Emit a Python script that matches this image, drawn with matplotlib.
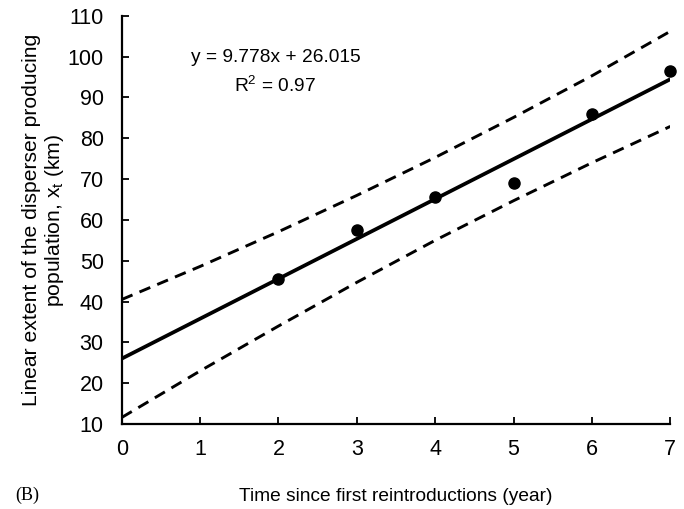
import numpy as np
from matplotlib import pyplot as plt

plt.rcParams['font.family'] = ['Liberation Sans', 'DejaVu Sans']
plt.rcParams['mathtext.fontset'] = 'custom'
plt.rcParams['mathtext.rm'] = 'Liberation Sans'
plt.rcParams['mathtext.it'] = 'Liberation Sans'

# observed extent (km) per year since reintroduction
years = [2, 3, 4, 5, 6, 7]
extent = [45.6, 57.5, 65.5, 69.0, 86.0, 96.5]

# fitted line
slope = 9.778
intercept = 26.015

# dashed bands at each year
band_x = [0, 1, 2, 3, 4, 5, 6, 7]
band_hi = [40.5, 48.6, 57.1, 66.0, 75.3, 85.1, 95.3, 106.2]
band_lo = [11.6, 23.0, 34.0, 44.7, 55.0, 64.7, 74.0, 82.9]

fig = plt.figure(figsize=(6.84, 5.09), dpi=100)
ax = fig.add_axes([0.178, 0.167, 0.802, 0.802])

xfit = np.array([0, 7])
ax.plot(xfit, slope*xfit + intercept, 'k-', lw=2.7, solid_capstyle='butt')
ax.plot(band_x, band_hi, 'k', ls=(0, (4.0, 2.6)), lw=2.1)
ax.plot(band_x, band_lo, 'k', ls=(0, (4.0, 2.6)), lw=2.1)
ax.plot(years, extent, 'ko', ms=8, clip_on=False, zorder=5)

ax.set_xlim(0, 7)
ax.set_ylim(10, 110)
ax.set_xticks(range(0, 8))
ax.set_yticks(range(10, 111, 10))
ax.spines['top'].set_visible(False)
ax.spines['right'].set_visible(False)
for s in ['left', 'bottom']:
    ax.spines[s].set_linewidth(1.6)
ax.tick_params(direction='in', length=5, width=1.3, labelsize=15.5)
ax.tick_params(axis='x', pad=11)
ax.tick_params(axis='y', pad=13)

ax.set_xlabel('Time since first reintroductions (year)', fontsize=13.8, labelpad=20)
ax.set_ylabel('Linear extent of the disperser producing\npopulation, $x_\\mathrm{t}$ (km)',
              fontsize=15.2, labelpad=1, linespacing=1.15)

ax.text(1.96, 99.8, 'y = 9.778x + 26.015', ha='center', va='center', fontsize=13.8)
ax.text(1.96, 92.8, 'R$^2$ = 0.97', ha='center', va='center', fontsize=13.8)

fig.text(0.022, 0.018, '(B)', fontsize=13, family='Liberation Serif')

fig.savefig('out.png', dpi=100)
